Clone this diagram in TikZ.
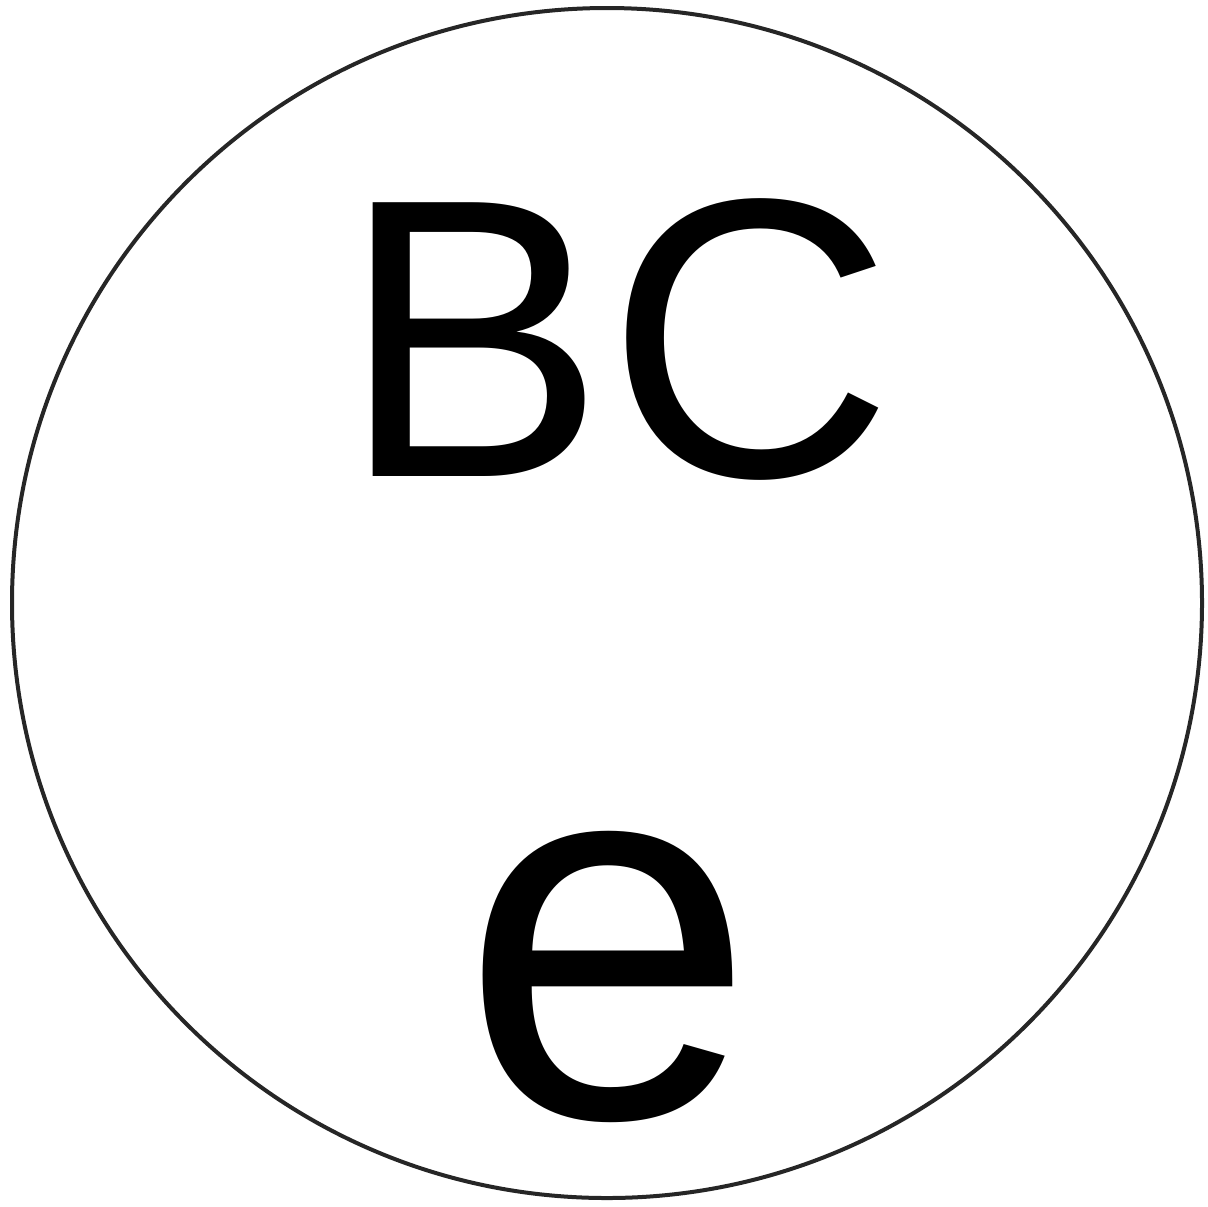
\documentclass[tikz,border=0pt]{standalone}
\usepackage{fontspec}
\setmainfont{Liberation Sans}
\begin{document}
\begin{tikzpicture}[x=0.5pt,y=-0.5pt,
  ring/.style={draw=black!85,line width=2pt,circle,inner sep=0pt,minimum size=595pt},
  big/.style={inner sep=0pt,anchor=base,text=black,text depth=0pt}]
\useasboundingbox (0,0) rectangle (1208,1206);
\node[ring] (c) at (607,603) {};
\node[big,font=\fontsize{199}{199}\selectfont] (bc) at (617,476) {BC};
\node[big,font=\fontsize{266}{266}\selectfont,text height=140pt] (e) at (608,1117) {e};
\end{tikzpicture}
\end{document}
